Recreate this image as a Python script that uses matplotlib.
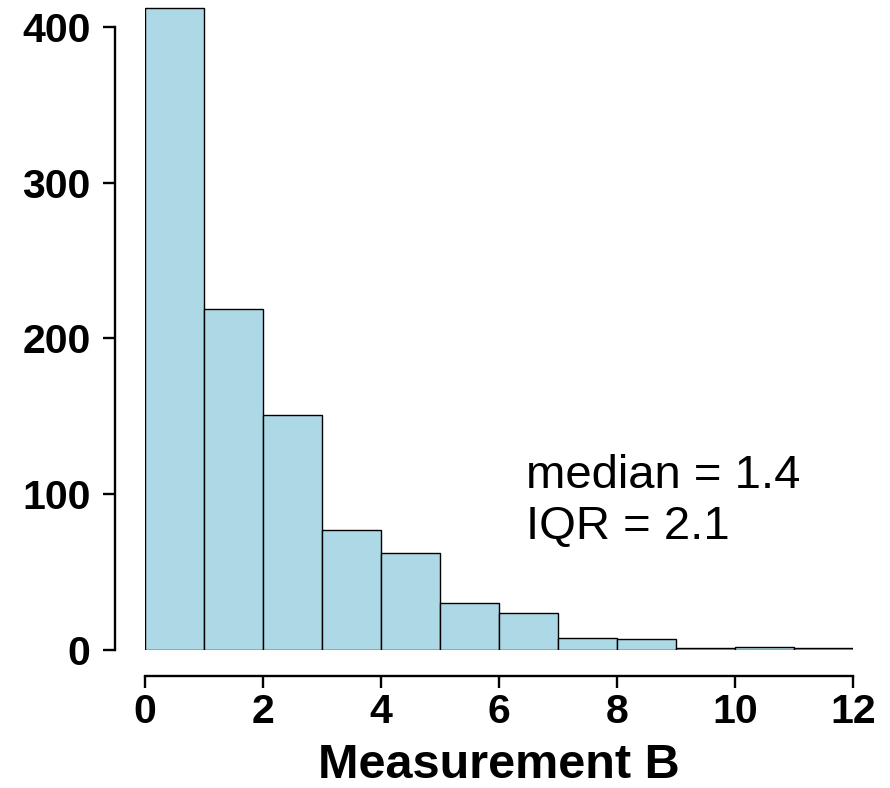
import matplotlib
matplotlib.use("Agg")
import matplotlib.pyplot as plt
import numpy as np

plt.rcParams['font.family'] = ['Liberation Sans', 'DejaVu Sans']

# histogram of measurement B, unit-width bins from 0 to 12
bin_edges = np.arange(0, 13)
counts = [412, 219, 151, 77, 62, 30, 24, 8, 7, 1, 2, 1]
xticks = [0, 2, 4, 6, 8, 10, 12]
yticks = [0, 100, 200, 300, 400]
stats_text = "median = 1.4\nIQR = 2.1"

W, H = 890, 788
fig = plt.figure(figsize=(W / 100, H / 100), dpi=100)
ax = fig.add_axes([145 / W, 138 / H, 708 / W, 648 / H])

ax.bar(bin_edges[:-1], counts, width=1, align='edge',
       color='lightblue', edgecolor='black', linewidth=1.0)

ax.set_xlim(0, 12)
ax.set_ylim(0, 416)

# R-style detached axes
for side in ('top', 'right'):
    ax.spines[side].set_visible(False)
ax.spines['left'].set_position(('outward', 21.6))
ax.spines['bottom'].set_position(('outward', 18.7))
ax.spines['left'].set_bounds(0, 400)
ax.spines['bottom'].set_bounds(0, 12)
for side in ('left', 'bottom'):
    ax.spines[side].set_linewidth(1.7)

ax.set_xticks(xticks)
ax.set_yticks(yticks)
ax.tick_params(axis='both', length=8.6, width=1.7, labelsize=29.5)
ax.tick_params(axis='y', pad=9)
ax.tick_params(axis='x', pad=4)
for lab in ax.get_xticklabels() + ax.get_yticklabels():
    lab.set_fontweight('bold')

ax.set_xlabel("Measurement B", fontsize=35, fontweight='bold', labelpad=8)

# multiline text: baseline refers to the last line
ax.text(6.46, 71.2, stats_text, fontsize=34, ha='left', va='baseline',
        linespacing=1.2)

fig.savefig("out.png", dpi=100)
